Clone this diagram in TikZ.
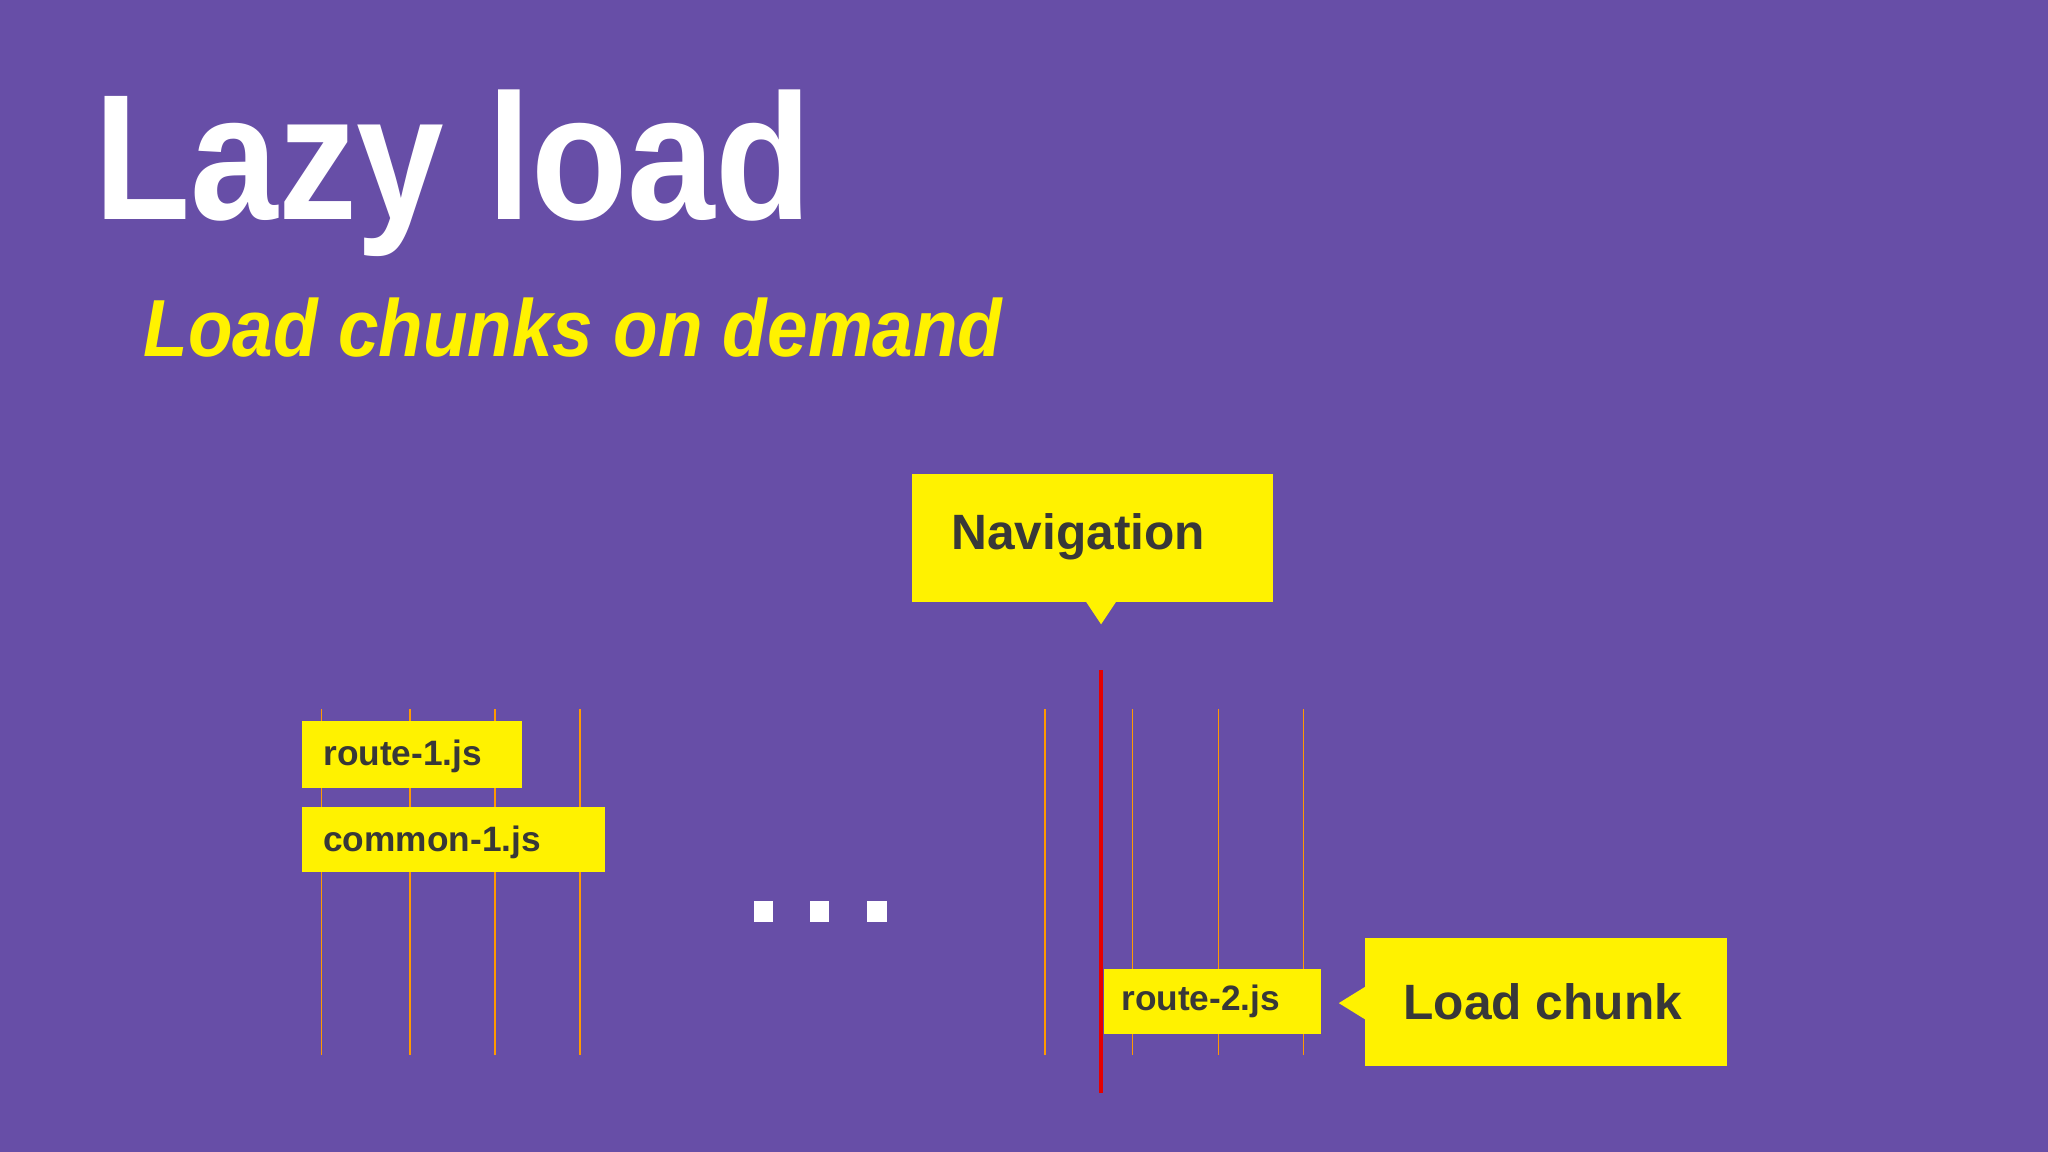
\documentclass[tikz,border=0pt]{standalone}
\usepackage{fontspec}
\setmainfont{Liberation Sans}
\begin{document}
\begin{tikzpicture}[x=1pt,y=-1pt,
  ybox/.style={fill=yellow,draw=none},
  lbl/.style={text=black!78,font=\bfseries},
  tline/.style={draw=orange!80!yellow,line width=1.2pt}]
\definecolor{bg}{HTML}{674EA7}
\fill[bg] (0,0) rectangle (1568,882);
\useasboundingbox (0,0) rectangle (1568,882);
\node[anchor=base west,text=white,font=\fontsize{137}{137}\selectfont\bfseries,inner sep=0,xscale=0.88,transform shape] (title) at (72,168) {Lazy load};
\node[anchor=base west,text=yellow,font=\fontsize{62}{62}\selectfont\bfseries\itshape,inner sep=0,xscale=0.9,transform shape] (sub) at (110,273) {Load chunks on demand};
% lines
\foreach \x in {246,314,379,444,800,867,933,998} \draw[tline] (\x,543) -- (\x,808);
\draw[red!90!black,line width=3pt] (843,513) -- (843,837);
% navigation
\fill[ybox] (698,363) rectangle (975,461);
\fill[ybox] (831,460) -- (843,478) -- (855,460) -- cycle;
\node[lbl,font=\fontsize{38}{38}\selectfont\bfseries,anchor=west] (nav) at (725,411) {Navigation};
% chunks
\fill[ybox] (231,552) rectangle (400,603);
\node[lbl,font=\fontsize{27}{27}\selectfont\bfseries,anchor=west] (r1) at (244,579) {route-1.js};
\fill[ybox] (231,618) rectangle (463,668);
\node[lbl,font=\fontsize{27}{27}\selectfont\bfseries,anchor=west] (c1) at (244,645) {common-1.js};
\fill[ybox] (845,742) rectangle (1011,792);
\node[lbl,font=\fontsize{27}{27}\selectfont\bfseries,anchor=west] (r2) at (855,767) {route-2.js};
% load chunk
\fill[ybox] (1045,718) rectangle (1322,816);
\fill[ybox] (1046,755) -- (1025,768) -- (1046,781) -- cycle;
\node[lbl,font=\fontsize{38}{38}\selectfont\bfseries,anchor=west] (lc) at (1071,767) {Load chunk};
% dots
\foreach \x in {577,620,664} \fill[white] (\x,690) rectangle +(15,16);
\end{tikzpicture}
\end{document}
